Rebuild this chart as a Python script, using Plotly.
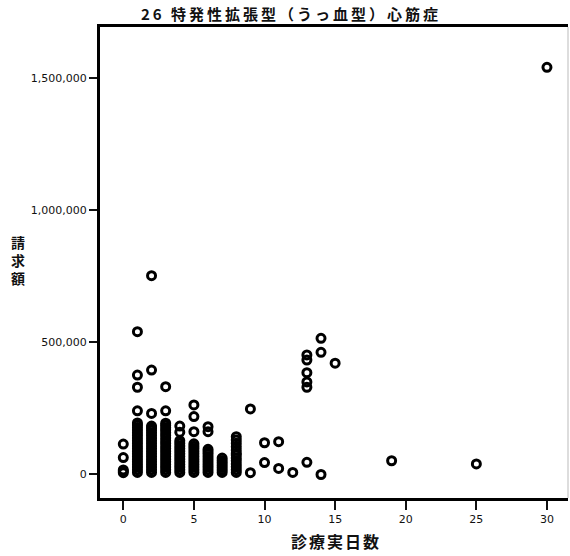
import plotly.graph_objects as go

# 診療実日数 (days) and 請求額 (claims), grouped per day
claims_day0 = [7000, 12000, 17000, 64000, 115000]
claims_day1 = [8000, 18000, 28000, 38000, 48000, 58000, 68000, 78000, 88000, 98000,
               108000, 118000, 128000, 138000, 148000, 158000, 168000, 178000, 187000, 195000,
               241000, 330000, 376000, 540000]
claims_day2 = [8000, 18000, 28000, 38000, 48000, 58000, 68000, 78000, 88000, 98000,
               108000, 118000, 128000, 138000, 148000, 158000, 167000, 176000, 183000,
               231000, 395000, 752000]
claims_day3 = [8000, 18000, 28000, 38000, 48000, 58000, 68000, 78000, 88000, 98000,
               108000, 118000, 128000, 138000, 148000, 158000, 168000, 177000, 186000, 194000,
               241000, 332000]
claims_day4 = [8000, 18000, 28000, 38000, 48000, 58000, 68000, 78000, 88000, 98000,
               108000, 118000, 128000, 160000, 183000]
claims_day5 = [8000, 18000, 28000, 38000, 48000, 58000, 68000, 78000, 88000, 98000,
               107000, 116000, 162000, 219000, 263000]
claims_day6 = [8000, 18000, 28000, 38000, 48000, 58000, 68000, 78000, 87000, 95000,
               162000, 181000]
claims_day7 = [8000, 17000, 26000, 35000, 44000, 53000, 62000]
claims_day8 = [8000, 18000, 29000, 40000, 52000, 62000, 74000, 80000, 92000, 105000,
               118000, 130000, 143000]
claims_day9 = [7000, 248000]
claims_day10 = [45000, 120000]
claims_day11 = [23000, 124000]
claims_day12 = [8000]
claims_day13 = [46000, 330000, 350000, 385000, 433000, 452000]
claims_day14 = [0, 462000, 515000]
claims_day15 = [421000]
claims_day19 = [52000]
claims_day25 = [40000]
claims_day30 = [1540000]

day_values = [0, 1, 2, 3, 4, 5, 6, 7, 8, 9, 10, 11, 12, 13, 14, 15, 19, 25, 30]
claims_lists = [claims_day0, claims_day1, claims_day2, claims_day3, claims_day4,
                claims_day5, claims_day6, claims_day7, claims_day8, claims_day9,
                claims_day10, claims_day11, claims_day12, claims_day13, claims_day14,
                claims_day15, claims_day19, claims_day25, claims_day30]

x_ticks = [0, 5, 10, 15, 20, 25, 30]
y_ticks = [0, 500000, 1000000, 1500000]
y_tick_text = ["0", "500,000", "1,000,000", "1,500,000"]

title_text = "26 特発性拡張型（うっ血型）心筋症"
x_title = "診療実日数"
y_title = "請<br>求<br>額"

xs, ys = [], []
for d, lst in zip(day_values, claims_lists):
    for v in lst:
        xs.append(d)
        ys.append(v)

fig = go.Figure()
fig.add_trace(go.Scatter(
    x=xs, y=ys, mode="markers",
    marker=dict(symbol="circle-open", size=8, color="#000000",
                line=dict(width=3, color="#000000")),
    hoverinfo="x+y", showlegend=False,
))

tick_font = dict(family="DejaVu Sans", size=11, color="#111111")

fig.update_layout(
    width=570, height=556,
    margin=dict(l=100, r=2, t=27, b=58),
    paper_bgcolor="white", plot_bgcolor="white",
    title=dict(
        text='<span style="letter-spacing:3px">' + title_text + '</span>',
        x=291 / 570, xref="container", xanchor="center",
        y=1 - 15 / 556, yref="container", yanchor="middle",
        font=dict(family="Noto Sans CJK JP", size=15, color="#111111", weight="bold"),
    ),
    xaxis=dict(
        range=[-1.65, 31.49], tickvals=x_ticks, ticks="outside", ticklen=9,
        tickwidth=2, tickcolor="#111111", showline=True, linewidth=3,
        linecolor="#000000", mirror=True, showgrid=False, zeroline=False,
        tickfont=tick_font,
    ),
    yaxis=dict(
        range=[-88900, 1692400], tickvals=y_ticks, ticktext=y_tick_text,
        ticks="outside", ticklen=8, tickwidth=2, tickcolor="#111111",
        showline=True, linewidth=3, linecolor="#000000", mirror=False,
        showgrid=False, zeroline=False, tickfont=tick_font,
    ),
    annotations=[
        dict(text='<span style="letter-spacing:2px">' + x_title + '</span>',
             xref="paper", yref="paper", x=(336 - 100) / 468, y=-(541 - 498) / 471,
             xanchor="center", yanchor="middle", showarrow=False,
             font=dict(family="Noto Sans CJK JP", size=16, color="#111111", weight="bold")),
        dict(text=y_title, xref="paper", yref="paper",
             x=-(100 - 18) / 468, y=(498 - 260) / 471,
             xanchor="center", yanchor="middle", showarrow=False,
             font=dict(family="Noto Sans CJK JP", size=14, color="#111111", weight="bold")),
    ],
    shapes=[dict(type="line", xref="paper", yref="paper", x0=1, x1=1, y0=0, y1=1,
                 line=dict(color="#bbbbbb", width=1))],
)

fig.write_html("out.html", config={"displayModeBar": False},
               post_script="document.body.style.margin='0';document.body.style.padding='0';")
